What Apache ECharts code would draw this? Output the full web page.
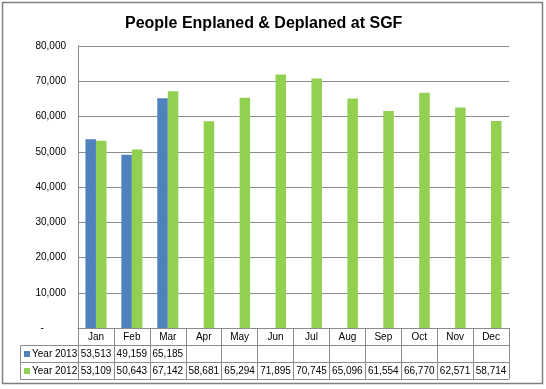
<!DOCTYPE html>
<html><head><meta charset="utf-8">
<script src="https://cdn.jsdelivr.net/npm/echarts@6/dist/echarts.min.js"></script>
<style>html,body{margin:0;padding:0;background:#fff}#c{width:546px;height:389px}</style>
</head><body><div id="c"></div>
<script>
const title = 'People Enplaned & Deplaned at SGF';
const months = ['Jan','Feb','Mar','Apr','May','Jun','Jul','Aug','Sep','Oct','Nov','Dec'];
const year2013 = [53513, 49159, 65185, null, null, null, null, null, null, null, null, null];
const year2012 = [53109, 50643, 67142, 58681, 65294, 71895, 70745, 65096, 61554, 66770, 62571, 58714];
const seriesNames = ['Year 2013', 'Year 2012'];
const yTicks = [0, 10000, 20000, 30000, 40000, 50000, 60000, 70000, 80000];

const blue = '#4F81BD', green = '#92D050', lineC = '#8c8c8c';
const fmt = v => (v == null ? '' : v.toLocaleString('en-US'));
const font = 'Liberation Sans, Arial, sans-serif';
const G = {left: 78, right: 509, top: 46, bottom: 328};

const chart = echarts.init(document.getElementById('c'));
function tableAxis(idx, offset, arr) {
  return {
    type: 'category', data: months, gridIndex: 0, position: 'bottom', offset: offset,
    axisLine: {show: true, lineStyle: {color: lineC, width: 1}},
    axisTick: {show: false},
    axisLabel: arr ? {show: true, interval: 0, margin: 4, color: '#000', fontSize: 10, fontFamily: font,
      formatter: (v, i) => fmt(arr[i])} : {show: false},
    splitLine: {show: false}
  };
}
chart.setOption({
  animation: false,
  backgroundColor: '#fff',
  title: {text: title, left: 120, top: 11,
    textStyle: {fontSize: 16, fontWeight: 'bold', color: '#000', fontFamily: font}},
  grid: {left: G.left, right: 546 - G.right, top: G.top, bottom: 389 - G.bottom, containLabel: false},
  xAxis: [
    {type: 'category', data: months, position: 'bottom',
      axisLine: {show: true, lineStyle: {color: lineC}},
      axisTick: {show: true, length: 51, lineStyle: {color: lineC}, interval: 0},
      axisLabel: {interval: 0, margin: 4, color: '#000', fontSize: 10, fontFamily: font}},
    tableAxis(1, 17, year2013),
    tableAxis(2, 34, year2012),
    tableAxis(3, 51, null)
  ],
  yAxis: {type: 'value', min: yTicks[0], max: yTicks[yTicks.length - 1], interval: yTicks[1] - yTicks[0],
    axisLine: {show: true, lineStyle: {color: lineC}},
    axisTick: {show: false},
    axisLabel: {margin: 12, color: '#000', fontSize: 10, fontFamily: font,
      formatter: v => (v === 0 ? '-        ' : fmt(v))},
    splitLine: {lineStyle: {color: lineC}}},
  series: [
    {name: seriesNames[0], type: 'bar', data: year2013, barWidth: 10.5, barGap: '0%', itemStyle: {color: blue}},
    {name: seriesNames[1], type: 'bar', data: year2012, barWidth: 10.5, barGap: '0%', itemStyle: {color: green}}
  ],
  graphic: [
    {type: 'rect', shape: {x: 2.5, y: 2.5, width: 540, height: 381}, style: {fill: 'none', stroke: '#7f7f7f', lineWidth: 1.5}, silent: true},
    {type: 'line', shape: {x1: 20.5, y1: 345.5, x2: G.left, y2: 345.5}, style: {stroke: lineC}},
    {type: 'line', shape: {x1: 20.5, y1: 362.5, x2: G.left, y2: 362.5}, style: {stroke: lineC}},
    {type: 'line', shape: {x1: 20.5, y1: 379.5, x2: G.left, y2: 379.5}, style: {stroke: lineC}},
    {type: 'line', shape: {x1: 20.5, y1: 345.5, x2: 20.5, y2: 379.5}, style: {stroke: lineC}},
    {type: 'rect', shape: {x: 24, y: 351, width: 6, height: 6}, style: {fill: blue}},
    {type: 'rect', shape: {x: 24, y: 368, width: 6, height: 6}, style: {fill: green}},
    {type: 'text', x: 32, y: 354, style: {text: seriesNames[0], fontSize: 10, fontFamily: font, fill: '#000', verticalAlign: 'middle'}},
    {type: 'text', x: 32, y: 371, style: {text: seriesNames[1], fontSize: 10, fontFamily: font, fill: '#000', verticalAlign: 'middle'}}
  ]
});
</script></body></html>
